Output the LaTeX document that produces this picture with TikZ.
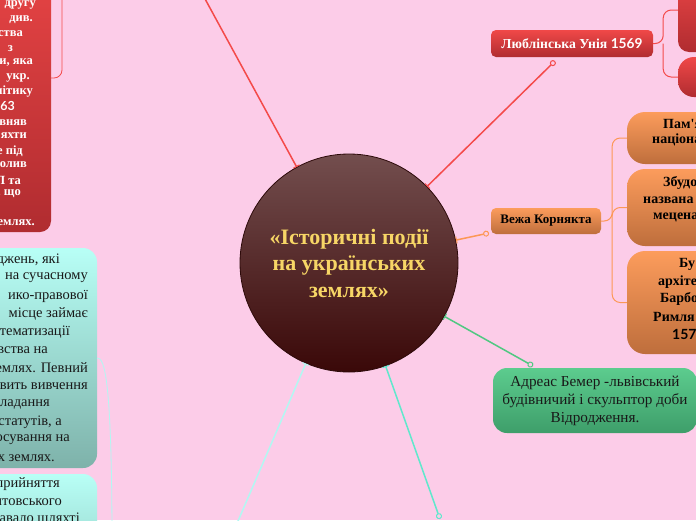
\documentclass[tikz,border=0pt]{standalone}
\usepackage{fontspec}
\setmainfont{Liberation Serif}
\newfontfamily\digitfont{Lato}
\usetikzlibrary{arrows.meta}
\definecolor{bgpink}{RGB}{252,204,232}
\definecolor{hubtop}{RGB}{115,78,78}
\definecolor{hubbottom}{RGB}{58,8,8}
\definecolor{hubedge}{RGB}{45,10,10}
\definecolor{hubtext}{RGB}{247,214,102}
\definecolor{redtop}{RGB}{240,72,72}
\definecolor{redbottom}{RGB}{176,44,48}
\definecolor{redlink}{RGB}{244,74,74}
\definecolor{orangetop}{RGB}{252,156,92}
\definecolor{orangebottom}{RGB}{190,110,60}
\definecolor{orangelink}{RGB}{252,152,86}
\definecolor{greentop}{RGB}{92,204,142}
\definecolor{greenbottom}{RGB}{62,158,106}
\definecolor{greenlink}{RGB}{80,200,130}
\definecolor{cyantop}{RGB}{184,255,246}
\definecolor{cyanbottom}{RGB}{126,178,170}
\definecolor{cyanlink}{RGB}{178,248,242}
\definecolor{teallink}{RGB}{96,232,204}
\tikzset{
    hub/.style={circle, draw=hubedge, line width=0.8pt, top color=hubtop, bottom color=hubbottom, minimum size=218pt, inner sep=0pt, align=center, text=hubtext, font=\fontsize{22}{26.5}\selectfont\bfseries},
    topicbox/.style={rectangle, rounded corners=5pt, inner sep=0pt, font=\fontsize{13.7}{15}\selectfont\bfseries},
    redtopic/.style={topicbox, top color=redtop, bottom color=redbottom, text=white},
    orangetopic/.style={topicbox, top color=orangetop, bottom color=orangebottom, text=black, font=\fontsize{13}{15}\selectfont\bfseries},
    notebox/.style={rectangle, inner sep=0pt},
    rednote/.style={notebox, rounded corners=11pt, top color=redtop, bottom color=redbottom},
    orangenote/.style={notebox, rounded corners=18pt, top color=orangetop, bottom color=orangebottom},
    cyannote/.style={notebox, rounded corners=14pt, top color=cyantop, bottom color=cyanbottom},
    greennote/.style={notebox, rounded corners=14pt, top color=greentop, bottom color=greenbottom, align=center, text=black!90, font=\fontsize{15.2}{18}\selectfont},
    hublink/.style={{Bar[width=7pt,line width=1pt]}-{Circle[length=6pt,fill=bgpink,line width=1pt]}, line width=1.5pt},
    branch/.style={line width=1pt, rounded corners=8pt},
    frag/.style={inner sep=0pt},
    boldfrag/.style={frag, font=\fontsize{12.5}{14}\selectfont\bfseries},
    plainfrag/.style={frag, text=black!90, font=\fontsize{14.5}{18}\selectfont}
}
\begin{document}
\begin{tikzpicture}[x=1pt, y=-1pt]
    \useasboundingbox (0,0) rectangle (696,520);
    \clip (0,0) rectangle (696,520);
    \fill[bgpink] (0,0) rectangle (696,520);

    % centre of the map
    \node[hub] (hub) at (349,263) {«Історичні події\\на українських\\землях»};

    % red note on the left, its topic lies above the picture
    \node[rednote, minimum width=201pt, minimum height=308pt] (reform) at (-49.5,78) {};
    \foreach \y/\x/\t [count=\i] in {5/36/другу, 20/33/див., 34/23/ства, 49/13/з, 63/33/{ри, яка}, 78/30/укр., 92/33/літику, 106/15/{\digitfont 1563}, 121/27/івняв, 136/27/яхти, 151/23/е під, 165/27/волив, 180/21/Л та, 194/21/{, що}, 223/35/землях.}
        \node[boldfrag, text=white, anchor=east] (reform-\i) at (\x,\y) {\t};
    \coordinate (reformpin) at (186,-36);
    \coordinate (reformfork) at (62,-20);
    \draw[hublink, draw=redlink] (hub) -- (reformpin);
    \draw[branch, draw=redlink, line width=0.8pt] (reformfork) |- (reform.east);

    % Lublin union
    \node[redtopic, minimum width=162pt, minimum height=27pt] (lublin) at (572,43.5) {Люблінська Унія {\digitfont 1569}};
    \node[rednote, minimum width=120pt, minimum height=84pt] (lublinA) at (738,10) {};
    \node[rednote, rounded corners=16pt, minimum width=120pt, minimum height=40pt] (lublinB) at (738,77) {};
    \coordinate (lublinpin) at (555,61);
    \draw[hublink, draw=redlink] (hub) -- (lublinpin);
    \draw[branch, draw=redlink] (lublin.east) -- ++(10,0) coordinate (lublinfork) |- (lublinA.west);
    \draw[branch, draw=redlink] (lublinfork) |- (lublinB.west);

    % Korniakt tower
    \node[orangetopic, minimum width=110pt, minimum height=26pt] (tower) at (546,221) {Вежа Корнякта};
    \node[orangenote, minimum width=164pt, minimum height=52pt] (towerA) at (709,138) {};
    \node[orangenote, minimum width=164pt, minimum height=77pt] (towerB) at (709,207.5) {};
    \node[orangenote, minimum width=164pt, minimum height=103pt] (towerC) at (709,302.5) {};
    \foreach \y/\x/\t [count=\i] in {124/663/Пам\textquotesingle я, 140/652/націона, 183/663/Збудо, 200/643/названа, 217/653/мецена, 264/679/Бу, 282/658/архіте, 299/660/Барбо, 317/653/Римля, 334/672/{\digitfont 1572}}
        \node[boldfrag, font=\fontsize{14}{16}\selectfont\bfseries, anchor=west] (tower-\i) at (\x,\y) {\t};
    \coordinate (towerpin) at (489,233);
    \draw[hublink, draw=orangelink] (hub) -- (towerpin);
    \draw[branch, draw=orangelink] (tower.east) -- ++(11,0) coordinate (towerfork) |- (towerA.west);
    \draw[branch, draw=orangelink] (towerfork) |- (towerB.west);
    \draw[branch, draw=orangelink] (towerfork) |- (towerC.west);

    % Andreas Bemer
    \node[greennote, minimum width=204pt, minimum height=65pt] (bemer) at (595,400.5) {Адреас Бемер -львівський\\будівничий і скульптор доби\\Відродження.};
    \coordinate (bemerpin) at (533,366);
    \draw[hublink, draw=greenlink] (hub) -- (bemerpin);

    % two topics below the picture
    \coordinate (lawpin) at (229,542);
    \coordinate (lowpin) at (440,519);
    \draw[hublink, draw=cyanlink] (hub) -- (lawpin);
    \draw[hublink, draw=teallink] (hub) -- (lowpin);

    % cyan notes on the left
    \node[cyannote, minimum width=257pt, minimum height=220pt] (lawnote) at (-31.5,358) {};
    \node[cyannote, minimum width=257pt, minimum height=166pt] (statutenote) at (-31.5,557) {};
    \foreach \y/\x/\t [count=\i] in {260/60/{дджень, які}, 278/88/на сучасному, 296/88/ико-правової, 314/88/місце займає, 332/70/тематизації, 350/48/вства на, 368/88/землях. Певний, 386/88/становить вивчення, 404/50/ладання, 422/62/{статутів, а}, 440/70/осування на, 458/55/х землях., 484/60/прийняття, 502/62/итовського, 519/80/давало шляхті}
        \node[plainfrag, anchor=east] (law-\i) at (\x,\y) {\t};
    \coordinate (lawfork) at (112,545);
    \draw[draw=cyanlink, line width=0.8pt] (lawnote.east) .. controls +(7,0) and +(0,-170) .. (lawfork);
\end{tikzpicture}
\end{document}
